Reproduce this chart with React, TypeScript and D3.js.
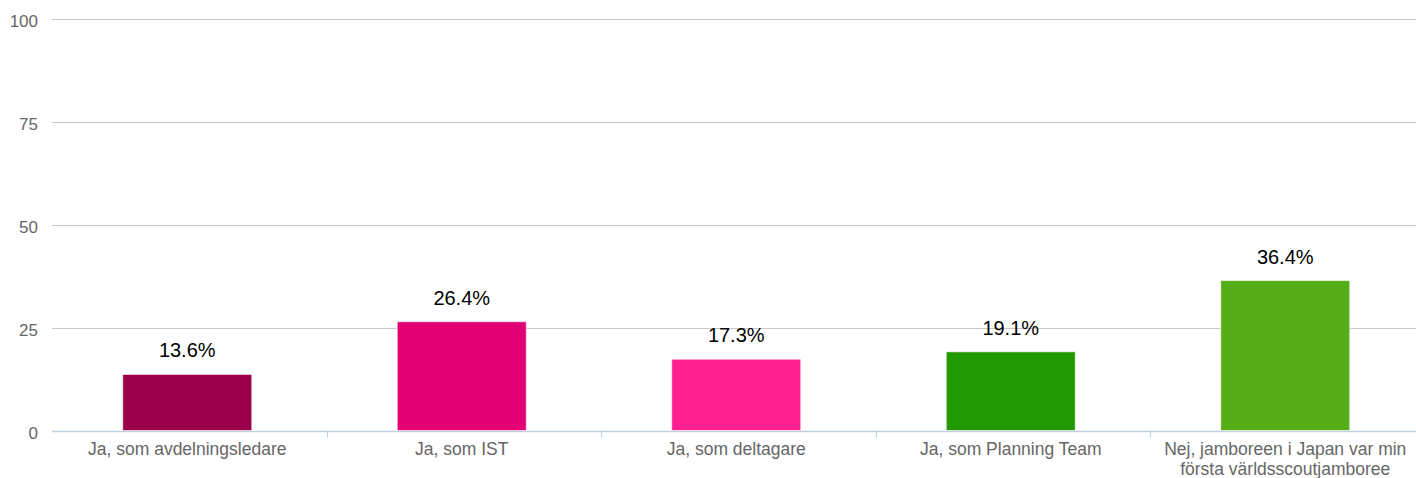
import React from "react";
import { scaleBand, scaleLinear } from "d3";

const categories = [
  "Ja, som avdelningsledare",
  "Ja, som IST",
  "Ja, som deltagare",
  "Ja, som Planning Team",
  "Nej, jamboreen i Japan var min första världsscoutjamboree"
];
const values = [13.6, 26.4, 17.3, 19.1, 36.4];
const colors = ["#990049", "#e20074", "#ff1f8f", "#229900", "#55ad18"];
const yTicks = [0, 25, 50, 75, 100];

const FONT = "'Liberation Sans', Arial, Helvetica, sans-serif";

// split a label into lines that fit maxWidth
function wrap(text: string, maxWidth: number, font: string): string[] {
  const ctx = document.createElement("canvas").getContext("2d");
  if (!ctx) return [text];
  ctx.font = font;
  const words = text.split(" ");
  const lines: string[] = [];
  let line = "";
  words.forEach(w => {
    const test = line ? line + " " + w : w;
    if (ctx.measureText(test).width > maxWidth && line) {
      lines.push(line);
      line = w;
    } else {
      line = test;
    }
  });
  if (line) lines.push(line);
  return lines;
}

export default function App() {
  const width = 1416,
    height = 478;
  const margin = { top: 18.5, left: 52, bottom: 47.5 };
  const plotRight = 1424.5;

  const x = scaleBand<string>()
    .domain(categories)
    .range([margin.left, plotRight]);

  const y = scaleLinear()
    .domain([0, 100])
    .range([height - margin.bottom, margin.top]);

  const bw = x.bandwidth();
  const barW = bw * 0.47;
  const y0 = y(0);
  const catSize = 17.5;

  return (
    <svg
      width={width}
      height={height}
      style={{ position: "absolute", left: 0, top: 0, display: "block", background: "#fff" }}
      fontFamily={FONT}
    >
      {yTicks.map(t => (
        <g key={t}>
          <line
            x1={margin.left}
            x2={plotRight}
            y1={Math.round(y(t)) + 0.5}
            y2={Math.round(y(t)) + 0.5}
            stroke={t === 0 ? "#c0d0e0" : "#c8c8c8"}
            strokeWidth={t === 0 ? 1.5 : 1}
          />
          <text x={38} y={y(t) + 8.5} textAnchor="end" fontSize={17} fill="#666">
            {t}
          </text>
        </g>
      ))}

      {categories.slice(1).map(c => (
        <line
          key={c}
          x1={Math.round(x(c)!) + 0.5}
          x2={Math.round(x(c)!) + 0.5}
          y1={y0}
          y2={y0 + 7}
          stroke="#c0d0e0"
          strokeWidth={1}
        />
      ))}

      {categories.map((c, i) => {
        const cx = x(c)! + bw / 2 - 2;
        const top = y(values[i]);
        return (
          <g key={c}>
            <rect
              x={cx - barW / 2}
              y={top}
              width={barW}
              height={y0 - top}
              fill={colors[i]}
              stroke="#fff"
              strokeOpacity={0.6}
              strokeWidth={1}
            />
            <text x={cx} y={top - 17} textAnchor="middle" fontSize={20} fill="#000">
              {values[i].toFixed(1)}%
            </text>
            <text x={cx} y={y0 + 24} textAnchor="middle" fontSize={catSize} fill="#666">
              {wrap(c, bw * 0.92, `${catSize}px ${FONT}`).map((line, li) => (
                <tspan key={li} x={cx} dy={li === 0 ? 0 : 20}>
                  {line}
                </tspan>
              ))}
            </text>
          </g>
        );
      })}
    </svg>
  );
}
